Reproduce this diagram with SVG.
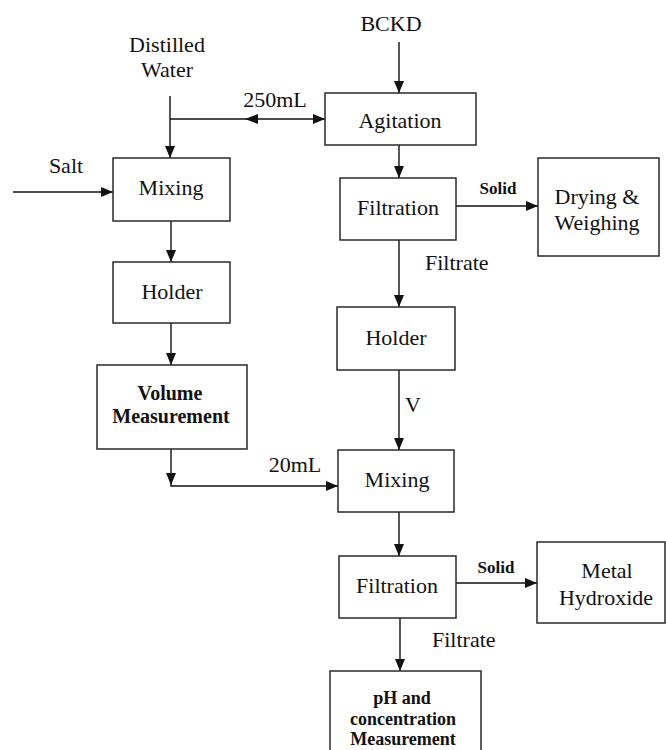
<svg xmlns="http://www.w3.org/2000/svg" width="666" height="750" viewBox="0 0 666 750">
<style>
.box{fill:#fff;stroke:#2a2a2a;stroke-width:1.5}
.ln{fill:none;stroke:#111;stroke-width:1.4}
.t{font-family:"Liberation Serif","Times New Roman",serif;font-size:22px;fill:#111;text-anchor:middle}
.b{font-family:"Liberation Serif","Times New Roman",serif;font-weight:bold;fill:#111;text-anchor:middle}
.ah{fill:#111}
</style>
<defs>
<marker id="arr" markerUnits="userSpaceOnUse" markerWidth="13" markerHeight="11" refX="12" refY="5" orient="auto">
<path d="M0,0 L12,5 L0,10 Z" fill="#111"/>
</marker>
</defs>
<rect width="666" height="750" fill="#fff"/>
<g id="connectors">
<path class="ln" d="M170,96 V158" marker-end="url(#arr)"/>
<path class="ln" d="M170,119 H325" marker-end="url(#arr)"/>
<polygon class="ah" points="245,119 258,114 258,124"/>
<path class="ln" d="M13,192 H113" marker-end="url(#arr)"/>
<path class="ln" d="M171,221 V262" marker-end="url(#arr)"/>
<path class="ln" d="M171,323 V365" marker-end="url(#arr)"/>
<path class="ln" d="M171,449 V486 H338" marker-end="url(#arr)"/>
<polygon class="ah" points="171,485 166,473 176,473"/>
<path class="ln" d="M399,42 V93" marker-end="url(#arr)"/>
<path class="ln" d="M399,145 V178" marker-end="url(#arr)"/>
<path class="ln" d="M456,206 H538" marker-end="url(#arr)"/>
<path class="ln" d="M399,240 V307" marker-end="url(#arr)"/>
<path class="ln" d="M399,370 V450" marker-end="url(#arr)"/>
<path class="ln" d="M399,512 V556" marker-end="url(#arr)"/>
<path class="ln" d="M456,583 H537" marker-end="url(#arr)"/>
<path class="ln" d="M400,618 V671" marker-end="url(#arr)"/>
</g>
<g id="labels">
<text class="t" x="167" y="52">Distilled</text>
<text class="t" x="167" y="77">Water</text>
<text class="t" x="275" y="107">250mL</text>
<text class="t" x="66" y="173">Salt</text>
<text class="t" x="391" y="31">BCKD</text>
<text class="b" x="498" y="194" font-size="17">Solid</text>
<text class="t" x="425" y="270" style="text-anchor:start">Filtrate</text>
<text class="t" x="413" y="412">V</text>
<text class="t" x="295" y="472">20mL</text>
<text class="b" x="496" y="573" font-size="17">Solid</text>
<text class="t" x="432" y="647" style="text-anchor:start">Filtrate</text>
</g>
<g id="mixing1">
<rect class="box" x="113" y="158" width="117" height="63"/>
<text class="t" x="171" y="195">Mixing</text>
</g>
<g id="holder1">
<rect class="box" x="113" y="262" width="117" height="61"/>
<text class="t" x="172" y="299">Holder</text>
</g>
<g id="volume">
<rect class="box" x="97" y="365" width="150" height="84"/>
<text class="b" x="170" y="400" font-size="20">Volume</text>
<text class="b" x="171" y="423" font-size="20">Measurement</text>
</g>
<g id="agitation">
<rect class="box" x="325" y="93" width="151" height="52"/>
<text class="t" x="400" y="128">Agitation</text>
</g>
<g id="filtration1">
<rect class="box" x="340" y="178" width="116" height="62"/>
<text class="t" x="398" y="215">Filtration</text>
</g>
<g id="drying">
<rect class="box" x="538" y="158" width="121" height="98"/>
<text class="t" x="597" y="204">Drying &amp;</text>
<text class="t" x="597" y="230">Weighing</text>
</g>
<g id="holder2">
<rect class="box" x="337" y="307" width="118" height="63"/>
<text class="t" x="396" y="345">Holder</text>
</g>
<g id="mixing2">
<rect class="box" x="338" y="450" width="116" height="62"/>
<text class="t" x="397" y="487">Mixing</text>
</g>
<g id="filtration2">
<rect class="box" x="339" y="556" width="117" height="62"/>
<text class="t" x="397" y="593">Filtration</text>
</g>
<g id="metal">
<rect class="box" x="537" y="542" width="128" height="81"/>
<text class="t" x="607" y="578">Metal</text>
<text class="t" x="606" y="605">Hydroxide</text>
</g>
<g id="ph">
<rect class="box" x="330" y="671" width="151" height="95"/>
<text class="b" x="402" y="704" font-size="18">pH and</text>
<text class="b" x="403" y="725" font-size="18">concentration</text>
<text class="b" x="403" y="745" font-size="18">Measurement</text>
</g>
</svg>
